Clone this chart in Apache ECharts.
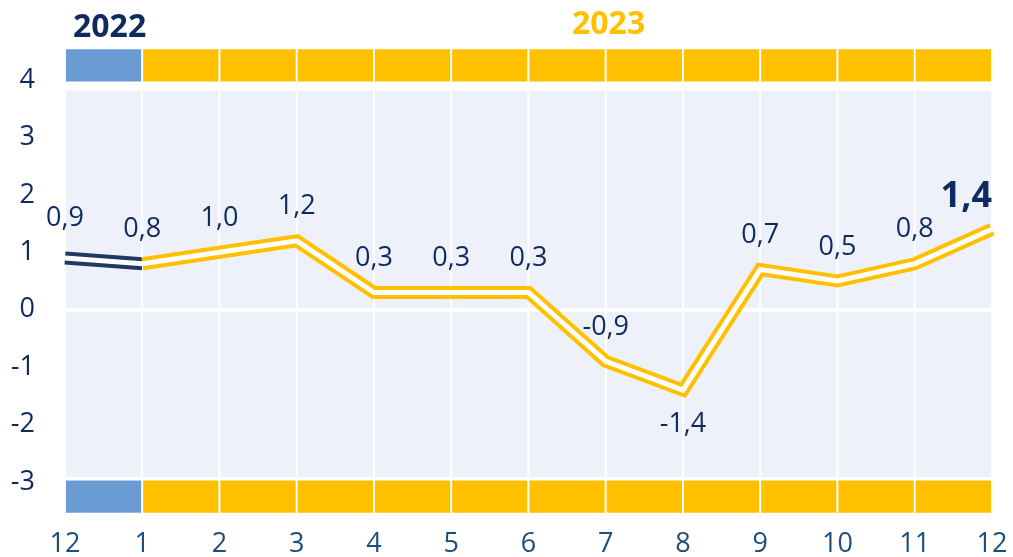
<!DOCTYPE html>
<html lang="en">
<head>
<meta charset="UTF-8">
<title>inflation 2023</title>
<script src="https://cdn.jsdelivr.net/npm/echarts@6/dist/echarts.min.js"></script>
<style>
  html, body { margin: 0; padding: 0; background: #fff; }
  #chart { width: 1013px; height: 557px; }
</style>
</head>
<body>
<div id="chart"></div>
<script>
// data
var months = ['12', '1', '2', '3', '4', '5', '6', '7', '8', '9', '10', '11', '12'];
var inflation = [0.9, 0.8, 1.0, 1.2, 0.3, 0.3, 0.3, -0.9, -1.4, 0.7, 0.5, 0.8, 1.4];
var yTicks = [-3, -2, -1, 0, 1, 2, 3, 4];
var years = ['2022', '2023'];
// which year each month interval belongs to (0 = 2022, 1 = 2023)
var cellYear = [0, 1, 1, 1, 1, 1, 1, 1, 1, 1, 1, 1];
// vertical extents (in axis units) of the decoration bands and the panel
var topBand = [3.96, 4.55];
var bottomBand = [-3.55, -2.96];
var panel = [-2.93, 3.83];

var navy = '#0e2a5e';
var yellow = '#ffc000';
var blue = '#6a9bd3';
var panelColor = '#eef1f9';
var font = '"Open Sans", "Noto Sans", sans-serif';

function fmt(v) { return v.toFixed(1).replace('.', ','); }

var areas = [];
cellYear.forEach(function (y, i) {
    var c = y === 0 ? blue : yellow;
    areas.push([{ xAxis: i, yAxis: panel[0], itemStyle: { color: panelColor } }, { xAxis: i + 1, yAxis: panel[1] }]);
    areas.push([{ xAxis: i, yAxis: topBand[0], itemStyle: { color: c } }, { xAxis: i + 1, yAxis: topBand[1] }]);
    areas.push([{ xAxis: i, yAxis: bottomBand[0], itemStyle: { color: c } }, { xAxis: i + 1, yAxis: bottomBand[1] }]);
});

var navyData = inflation.map(function (v, i) { return i <= 1 ? v : null; });
var yellowData = inflation.map(function (v, i) { return i >= 1 ? v : null; });
var labelData = inflation.map(function (v, i) {
    var item = { value: v };
    if (i === 0) item.label = { distance: 26 };
    if (v === -1.4) item.label = { position: 'bottom' };
    if (i === inflation.length - 1) {
        item.label = { fontSize: 36, fontWeight: 'bold', align: 'right', distance: 14 };
    }
    return item;
});

var myChart = echarts.init(document.getElementById('chart'));
var option = {
    animation: false,
    backgroundColor: '#fff',
    textStyle: { fontFamily: font },
    title: [
        { text: years[0], left: 68, top: 7, textStyle: { color: navy, fontSize: 32, fontWeight: 'bold', fontFamily: font } },
        { text: years[1], left: 567, top: 4, textStyle: { color: yellow, fontSize: 32, fontWeight: 'bold', fontFamily: font } }
    ],
    grid: { left: 65, right: 21, top: 48.4, bottom: 43.4, containLabel: false, outerBoundsMode: 'none' },
    xAxis: {
        type: 'category',
        boundaryGap: false,
        data: months,
        axisLine: { show: false },
        axisTick: { show: false },
        splitLine: { show: false },
        axisLabel: { interval: 0, margin: 17, fontSize: 27, color: '#1f4e79', fontFamily: font }
    },
    yAxis: {
        type: 'value',
        min: bottomBand[0],
        max: topBand[1],
        axisLine: { show: false },
        axisTick: { show: false },
        splitLine: { show: false },
        axisLabel: { customValues: yTicks, margin: 30, fontSize: 27, color: navy, fontFamily: font }
    },
    series: [
        {
            name: '2022',
            type: 'line',
            z: 10,
            data: navyData,
            symbol: 'none',
            lineStyle: { color: '#1f3864', width: 13, join: 'miter', cap: 'butt' },
            markArea: {
                silent: true,
                itemStyle: { borderColor: '#fff', borderWidth: 1.8 },
                data: areas
            },
            markLine: {
                silent: true,
                symbol: 'none',
                label: { show: false },
                lineStyle: { color: '#fff', width: 4, type: 'solid' },
                data: [{ yAxis: 0 }]
            }
        },
        {
            name: '2023',
            type: 'line',
            z: 11,
            data: yellowData,
            symbol: 'none',
            lineStyle: { color: yellow, width: 13, join: 'miter', cap: 'butt' }
        },
        {
            name: 'inner',
            type: 'line',
            z: 12,
            data: labelData,
            symbol: 'circle',
            symbolSize: 1,
            showSymbol: true,
            itemStyle: { color: 'rgba(0,0,0,0)' },
            lineStyle: { color: '#fff', width: 5, join: 'miter', cap: 'butt' },
            labelLayout: { hideOverlap: false },
            label: {
                show: true,
                position: 'top',
                distance: 20,
                fontSize: 27,
                color: navy,
                fontFamily: font,
                formatter: function (p) { return fmt(p.value); }
            }
        }
    ]
};
myChart.setOption(option);
</script>
</body>
</html>
